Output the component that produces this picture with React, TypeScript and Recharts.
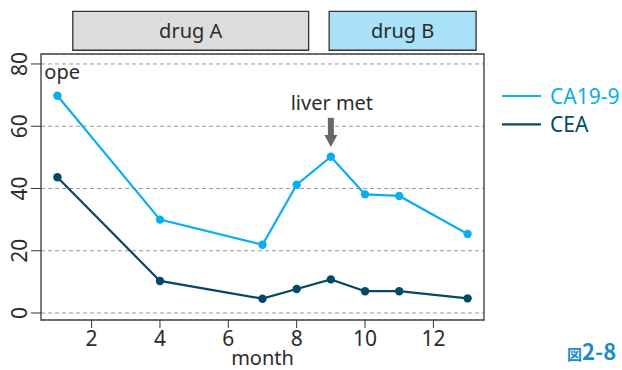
import * as React from "react"
import {
  CartesianGrid,
  Line,
  LineChart,
  ReferenceArea,
  ReferenceDot,
  ReferenceLine,
  XAxis,
  YAxis,
} from "recharts"

// measurements
const months = [1, 4, 7, 8, 9, 10, 11, 13]
const ca199 = [69.8, 30.0, 21.9, 41.2, 50.2, 38.1, 37.6, 25.4]
const cea = [43.6, 10.3, 4.6, 7.7, 10.8, 7.0, 7.0, 4.7]

const xTicks = [2, 4, 6, 8, 10, 12]
const yTicks = [0, 20, 40, 60, 80]

// treatment periods (months)
const drugNames = ["drug A", "drug B"]
const drugStart = [1.45, 8.95]
const drugEnd = [8.35, 13.25]
const drugFill = ["#dcdcde", "#a8e1f8"]

const seriesNames = ["CA19-9", "CEA"]
const seriesColors = ["#0aaeec", "#044766"]

const FONT = '"Noto Sans", "Open Sans", sans-serif'
const TEXT = "#2b2b2b"

const data = months.map((m, i) => ({ month: m, ca199: ca199[i], cea: cea[i] }))

function YTick({ y, payload }: any) {
  return (
    <text
      x={27}
      y={y}
      transform={`rotate(-90, 27, ${y})`}
      textAnchor="middle"
      fontSize={21}
      fill={TEXT}
      fontFamily={FONT}
    >
      {payload.value}
    </text>
  )
}

function Arrow({ x1, y1, x2, y2 }: any) {
  const head = 12
  const yb = y2 - head
  return (
    <g fill="#666">
      <rect x={x1 - 3} y={y1} width={6} height={yb - y1} />
      <polygon points={`${x2 - 6.5},${yb} ${x2 + 6.5},${yb} ${x2},${y2}`} />
    </g>
  )
}

function noteLabel(text: string) {
  return ({ viewBox }: any) => (
    <text
      x={viewBox.x + viewBox.width / 2}
      y={viewBox.y + viewBox.height / 2}
      textAnchor="middle"
      fontSize={20}
      fill={TEXT}
      fontFamily={FONT}
    >
      {text}
    </text>
  )
}

export default function App() {
  return (
    <div
      style={{
        position: "absolute",
        left: 0,
        top: 0,
        width: 622,
        height: 370,
        overflow: "hidden",
        background: "#fff",
        fontFamily: FONT,
      }}
    >
      <LineChart
        width={622}
        height={370}
        data={data}
        margin={{ top: 54, right: 138, left: 0, bottom: 0 }}
      >
        <CartesianGrid
          vertical={false}
          stroke="#999"
          strokeDasharray="4 3"
        />
        <XAxis
          dataKey="month"
          type="number"
          domain={[0.52, 13.48]}
          ticks={xTicks}
          height={50}
          axisLine={false}
          tickSize={8}
          tickMargin={3}
          tickLine={{ stroke: "#333" }}
          tick={{ fontSize: 21, fill: TEXT, fontFamily: FONT }}
          label={{
            value: "month",
            position: "insideBottom",
            offset: 5,
            fontSize: 20,
            fill: TEXT,
            fontFamily: FONT,
          }}
        />
        <YAxis
          type="number"
          domain={[-2.25, 83.2]}
          ticks={yTicks}
          width={41}
          axisLine={false}
          tickSize={10}
          tickLine={{ stroke: "#333" }}
          tick={<YTick />}
        />
        <ReferenceArea
          x1={0.52}
          x2={13.48}
          y1={-2.25}
          y2={83.2}
          fill="none"
          stroke="#444"
          strokeWidth={1.4}
          ifOverflow="visible"
        />
        {drugNames.map((name, i) => (
          <ReferenceArea
            key={name}
            x1={drugStart[i]}
            x2={drugEnd[i]}
            y1={84.4}
            y2={96.9}
            fill={drugFill[i]}
            fillOpacity={1}
            stroke="#333"
            strokeWidth={1.3}
            ifOverflow="visible"
            label={{
              value: name,
              position: "center",
              fontSize: 20,
              fill: TEXT,
              fontFamily: FONT,
            }}
          />
        ))}
        <ReferenceDot
          x={1.14}
          y={75.2}
          r={0}
          ifOverflow="visible"
          label={noteLabel("ope")}
        />
        <ReferenceDot
          x={9.03}
          y={65.2}
          r={0}
          ifOverflow="visible"
          label={noteLabel("liver met")}
        />
        <ReferenceLine
          segment={[
            { x: 9, y: 62.7 },
            { x: 9, y: 53.3 },
          ]}
          ifOverflow="visible"
          shape={(p: any) => <Arrow {...p} />}
        />
        <Line
          dataKey="ca199"
          name={seriesNames[0]}
          stroke={seriesColors[0]}
          strokeWidth={2.2}
          dot={{ r: 4.2, fill: seriesColors[0], stroke: seriesColors[0], strokeWidth: 0 }}
          activeDot={false}
          isAnimationActive={false}
        />
        <Line
          dataKey="cea"
          name={seriesNames[1]}
          stroke={seriesColors[1]}
          strokeWidth={2.2}
          dot={{ r: 4.2, fill: seriesColors[1], stroke: seriesColors[1], strokeWidth: 0 }}
          activeDot={false}
          isAnimationActive={false}
        />
      </LineChart>
      <svg
        width={622}
        height={370}
        style={{ position: "absolute", left: 0, top: 0, pointerEvents: "none" }}
      >
        {seriesNames.map((name, i) => (
          <g key={name}>
            <line
              x1={502}
              x2={541}
              y1={96 + i * 28.4}
              y2={96 + i * 28.4}
              stroke={seriesColors[i]}
              strokeWidth={2.2}
            />
            <text
              x={550}
              y={103.5 + i * 28.4}
              fontSize={21}
              fill={seriesColors[i]}
              fontFamily={FONT}
            >
              {name}
            </text>
          </g>
        ))}
        <text x={567} y={360} fill="#1a8cc8" fontWeight="bold" fontFamily={'"Noto Sans CJK JP", "Noto Sans", sans-serif'}>
          <tspan fontSize={15}>図</tspan>
          <tspan fontSize={22}>2-8</tspan>
        </text>
      </svg>
    </div>
  )
}
